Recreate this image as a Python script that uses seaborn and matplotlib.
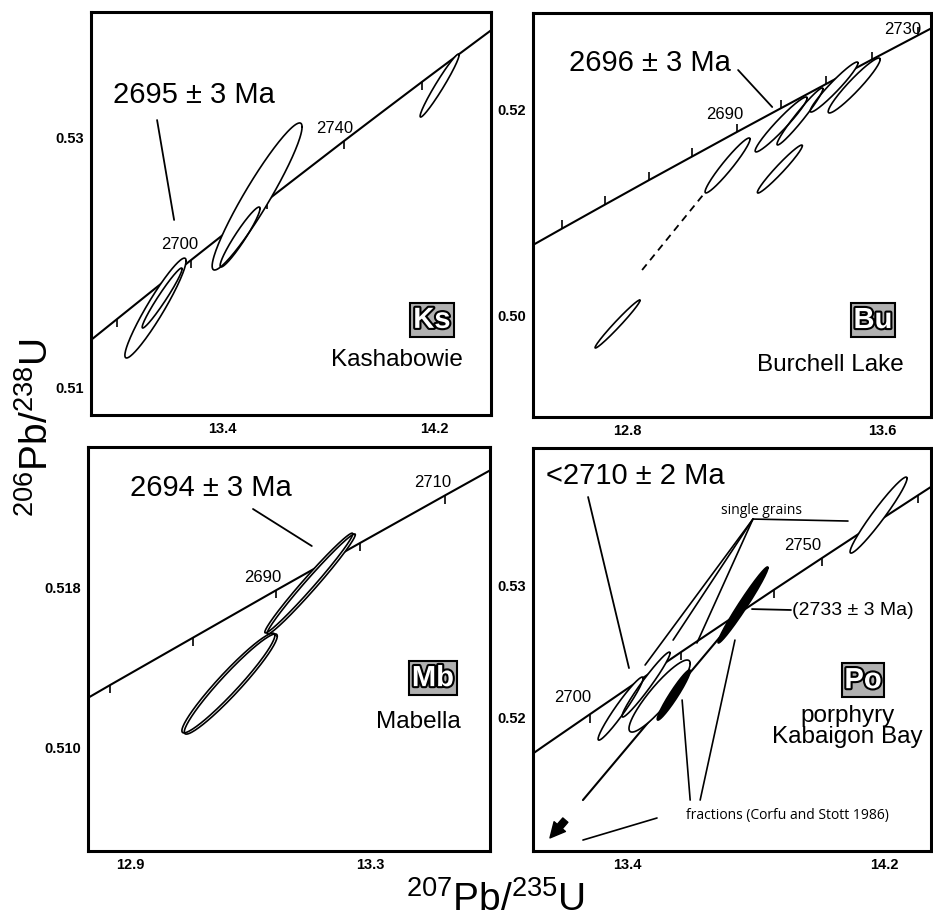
import numpy as np
import matplotlib
matplotlib.use("Agg")
import matplotlib.pyplot as plt
import matplotlib.patheffects as pe
import seaborn as sns

# concordia points (age Ma, 207Pb/235U, 206Pb/238U)
concordia_age = [2620, 2630, 2640, 2650, 2660, 2670, 2680, 2690, 2700,
                 2710, 2720, 2730, 2740, 2750, 2760, 2770, 2780, 2790]
concordia_x = [12.2012, 12.3318, 12.4638, 12.5971, 12.7316, 12.8675, 13.0048, 13.1434, 13.2834,
               13.4247, 13.5675, 13.7117, 13.8573, 14.0043, 14.1528, 14.3028, 14.4543, 14.6072]
concordia_y = [0.50144, 0.50378, 0.50611, 0.50845, 0.51079, 0.51314, 0.51548, 0.51784, 0.52019,
               0.52255, 0.52492, 0.52728, 0.52966, 0.53203, 0.53441, 0.53679, 0.53918, 0.54157]

# --- Ks Kashabowie ---
ks_ticks = [2680, 2700, 2720, 2740, 2760]
ks_cx = [13.532, 13.468, 13.150, 13.175, 14.218]
ks_cy = [0.52526, 0.52203, 0.51637, 0.51717, 0.53410]
ks_sx = [0.169, 0.075, 0.115, 0.075, 0.0733]
ks_sy = [0.00586, 0.00239, 0.00398, 0.00239, 0.00251]
ks_rho = [0.945, 0.95, 0.945, 0.97, 0.97]
ks_leader = [(13.156, 0.53135), (13.220, 0.52339)]

# --- Bu Burchell Lake ---
bu_ticks = [2650, 2660, 2670, 2680, 2690, 2700, 2710, 2720, 2730]
bu_cx = [12.770, 13.115, 13.279, 13.283, 13.342, 13.449, 13.512]
bu_cy = [0.49912, 0.51459, 0.51424, 0.51859, 0.51937, 0.52224, 0.52239]
bu_sx = [0.0705, 0.0705, 0.0705, 0.0815, 0.072, 0.075, 0.0815]
bu_sy = [0.00234, 0.00268, 0.00234, 0.00268, 0.00278, 0.00244, 0.00268]
bu_rho = [0.983, 0.958, 0.97, 0.96, 0.97, 0.96, 0.95]
bu_leader = [(13.148, 0.52390), (13.255, 0.52029)]
bu_dashed = [(12.847, 0.50439), (13.038, 0.51171)]

# --- Mb Mabella ---
mb_ticks = [2670, 2680, 2690, 2700, 2710]
mb_cx = [13.198, 13.202, 13.064, 13.068]
mb_cy = [0.51820, 0.51815, 0.51323, 0.51318]
mb_sx = [0.0733, 0.0735, 0.0775, 0.0775]
mb_sy = [0.00248, 0.00249, 0.00248, 0.00249]
mb_rho = [0.985, 0.985, 0.956, 0.956]
mb_leader = [(13.105, 0.52188), (13.203, 0.52004)]

# --- Po porphyry Kabaigon Bay ---
po_ticks = [2700, 2710, 2720, 2730, 2740, 2750, 2760, 2770]
po_cx = [14.181, 13.501, 13.380, 13.459, 13.760, 13.545]
po_cy = [0.5353, 0.52159, 0.52064, 0.52246, 0.52849, 0.52167]
po_sx = [0.0885, 0.095, 0.0699, 0.0745, 0.0776, 0.0512]
po_sy = [0.00288, 0.00273, 0.00239, 0.00246, 0.00288, 0.0019]
po_rho = [0.965, 0.90, 0.962, 0.97, 0.98, 0.957]
po_filled = [False, False, False, False, True, True]
po_discordia = [(13.263, 0.51371), (13.755, 0.52799)]
po_age_leader = [(13.279, 0.53667), (13.406, 0.52371)]
po_grain_origin = (13.791, 0.53500)
po_grain_ends = [(14.086, 0.53485), (13.456, 0.52394), (13.543, 0.52583), (13.617, 0.52561)]
po_2733_leader = [(13.788, 0.52818), (13.909, 0.52811)]
po_frac_leaders = [[(13.596, 0.51371), (13.571, 0.52129)],
                   [(13.627, 0.51371), (13.735, 0.52583)],
                   [(13.263, 0.51068), (13.493, 0.51235)]]
po_arrow = [(13.214, 0.51235), (13.155, 0.51068)]


def ellipse_xy(cx, cy, sx, sy, rho, n=160):
    t = np.linspace(0, 2 * np.pi, n)
    x = cx + sx * np.cos(t)
    y = cy + sy * (rho * np.cos(t) + np.sqrt(1 - rho ** 2) * np.sin(t))
    return x, y


def draw_concordia(ax, ticks, tick_marker=3):
    sns.lineplot(x=concordia_x, y=concordia_y, sort=False, estimator=None,
                 color="black", linewidth=1.5, ax=ax, zorder=2)
    idx = [concordia_age.index(a) for a in ticks]
    ax.plot([concordia_x[i] for i in idx], [concordia_y[i] for i in idx], ls="none",
            marker=tick_marker, ms=6, mew=1.2, color="black", zorder=2)


def draw_ellipses(ax, cx, cy, sx, sy, rho, filled=None):
    if filled is None:
        filled = [False] * len(cx)
    for i in range(len(cx)):
        ex, ey = ellipse_xy(cx[i], cy[i], sx[i], sy[i], rho[i])
        ax.fill(ex, ey, color="black" if filled[i] else "white", lw=0, zorder=3)
    for i in range(len(cx)):
        ex, ey = ellipse_xy(cx[i], cy[i], sx[i], sy[i], rho[i])
        ax.plot(ex, ey, color="black", lw=1.2, zorder=4)


def seg(ax, pts, **kw):
    ax.plot([p[0] for p in pts], [p[1] for p in pts], color="black",
            lw=kw.pop("lw", 1.3), zorder=kw.pop("zorder", 5), **kw)


def setup(ax, xlim, ylim, xt, xlab, yt, ylab):
    ax.set_xlim(xlim)
    ax.set_ylim(ylim)
    ax.set_xticks(xt)
    ax.set_xticklabels([xlab.get(v, "") for v in xt])
    ax.set_yticks(yt)
    ax.set_yticklabels([ylab.get(v, "") for v in yt])
    ax.tick_params(direction="in", length=5, width=1.3, labelsize=10.5, pad=5, colors="black")
    for lab in ax.get_xticklabels() + ax.get_yticklabels():
        lab.set_fontweight("bold")
    for s in ax.spines.values():
        s.set_linewidth(2.2)
        s.set_color("black")


def site_label(ax, code, name, box_pos, name_pos, size=17.5):
    ax.text(*box_pos, code, transform=ax.transAxes, ha="center", va="center",
            fontsize=21, fontweight="bold", color="white", zorder=6,
            path_effects=[pe.withStroke(linewidth=3, foreground="black")],
            bbox=dict(boxstyle="square,pad=0.1", fc="#b0b0b0", ec="black", lw=1.5))
    ax.text(*name_pos, name, transform=ax.transAxes, ha="center", va="center",
            fontsize=size, linespacing=0.95, zorder=6)


def note(ax, x, y, s, size, **kw):
    ax.text(x, y, s, transform=ax.transAxes, ha=kw.pop("ha", "center"), va="center",
            fontsize=size, zorder=6, **kw)


sns.set_style("white")
plt.rcParams["font.family"] = ["Liberation Sans", "DejaVu Sans"]
plt.rcParams["mathtext.default"] = "regular"
plt.rcParams["text.color"] = "black"

fig = plt.figure(figsize=(9.33, 9.24), dpi=100)
ax1 = fig.add_axes([0.0975, 0.5509, 0.4287, 0.4361])
ax2 = fig.add_axes([0.5713, 0.5487, 0.4266, 0.4372])
ax3 = fig.add_axes([0.0943, 0.0790, 0.4309, 0.4372])
ax4 = fig.add_axes([0.5713, 0.0790, 0.4266, 0.4361])

# Ks
setup(ax1, (12.9075, 14.411), (0.50785, 0.53996),
      [13.0, 13.2, 13.4, 13.6, 13.8, 14.0, 14.2, 14.4], {13.4: "13.4", 14.2: "14.2"},
      [0.51, 0.515, 0.52, 0.525, 0.53, 0.535], {0.51: "0.51", 0.53: "0.53"})
draw_concordia(ax1, ks_ticks)
draw_ellipses(ax1, ks_cx, ks_cy, ks_sx, ks_sy, ks_rho)
seg(ax1, ks_leader)
note(ax1, 0.2575, 0.794, "2695 ± 3 Ma", 21)
note(ax1, 0.2225, 0.422, "2700", 12)
note(ax1, 0.61, 0.712, "2740", 12)
site_label(ax1, "Ks", "Kashabowie", (0.8525, 0.236), (0.765, 0.136))

# Bu
setup(ax2, (12.505, 13.753), (0.49005, 0.52946),
      [12.6, 12.8, 13.0, 13.2, 13.4, 13.6], {12.8: "12.8", 13.6: "13.6"},
      [0.495, 0.50, 0.505, 0.51, 0.515, 0.52, 0.525], {0.50: "0.50", 0.52: "0.52"})
draw_concordia(ax2, bu_ticks, tick_marker=2)
draw_ellipses(ax2, bu_cx, bu_cy, bu_sx, bu_sy, bu_rho)
seg(ax2, bu_leader)
seg(ax2, bu_dashed, ls=(0, (4, 3)))
note(ax2, 0.294, 0.876, "2696 ± 3 Ma", 21)
note(ax2, 0.482, 0.748, "2690", 12)
note(ax2, 0.93, 0.958, "2730", 12)
site_label(ax2, "Bu", "Burchell Lake", (0.854, 0.240), (0.746, 0.129))

# Mb
setup(ax3, (12.83, 13.50), (0.50488, 0.52496),
      [12.9, 13.0, 13.1, 13.2, 13.3, 13.4], {12.9: "12.9", 13.3: "13.3"},
      [0.506, 0.510, 0.514, 0.518, 0.522], {0.510: "0.510", 0.518: "0.518"})
draw_concordia(ax3, mb_ticks)
draw_ellipses(ax3, mb_cx, mb_cy, mb_sx, mb_sy, mb_rho)
seg(ax3, mb_leader)
note(ax3, 0.306, 0.899, "2694 ± 3 Ma", 21)
note(ax3, 0.435, 0.678, "2690", 12)
note(ax3, 0.858, 0.913, "2710", 12)
site_label(ax3, "Mb", "Mabella", (0.858, 0.428), (0.821, 0.319))

# Po
setup(ax4, (13.108, 14.344), (0.50985, 0.54038),
      [13.2, 13.4, 13.6, 13.8, 14.0, 14.2], {13.4: "13.4", 14.2: "14.2"},
      [0.515, 0.52, 0.525, 0.53, 0.535], {0.52: "0.52", 0.53: "0.53"})
draw_concordia(ax4, po_ticks)
seg(ax4, po_discordia, lw=1.5, zorder=2)
draw_ellipses(ax4, po_cx, po_cy, po_sx, po_sy, po_rho, po_filled)
seg(ax4, po_age_leader)
for end in po_grain_ends:
    seg(ax4, [po_grain_origin, end], lw=1.2)
seg(ax4, po_2733_leader)
for ld in po_frac_leaders:
    seg(ax4, ld, lw=1.2)
ax4.annotate("", xy=po_arrow[1], xytext=po_arrow[0], zorder=6,
             arrowprops=dict(arrowstyle="simple,head_length=0.9,head_width=0.9,tail_width=0.4",
                             fc="black", ec="black", mutation_scale=12))
note(ax4, 0.256, 0.931, "<2710 ± 2 Ma", 21)
note(ax4, 0.575, 0.846, "single grains", 10, family=["Open Sans", "DejaVu Sans"])
note(ax4, 0.1005, 0.380, "2700", 12)
note(ax4, 0.678, 0.759, "2750", 12)
note(ax4, 0.651, 0.596, "(2733 ± 3 Ma)", 14, ha="left")
note(ax4, 0.638, 0.089, "fractions (Corfu and Stott 1986)", 10, family=["Open Sans", "DejaVu Sans"])
site_label(ax4, "Po", "porphyry\nKabaigon Bay", (0.829, 0.424), (0.79, 0.31))

fig.text(37 / 933, 1 - 427 / 924, r"$^{206}$Pb/$^{238}$U", rotation=90, ha="center", va="center", fontsize=28)
fig.text(496 / 933, 0.026, r"$^{207}$Pb/$^{235}$U", ha="center", va="center", fontsize=28)

fig.savefig("out.png", dpi=100)
